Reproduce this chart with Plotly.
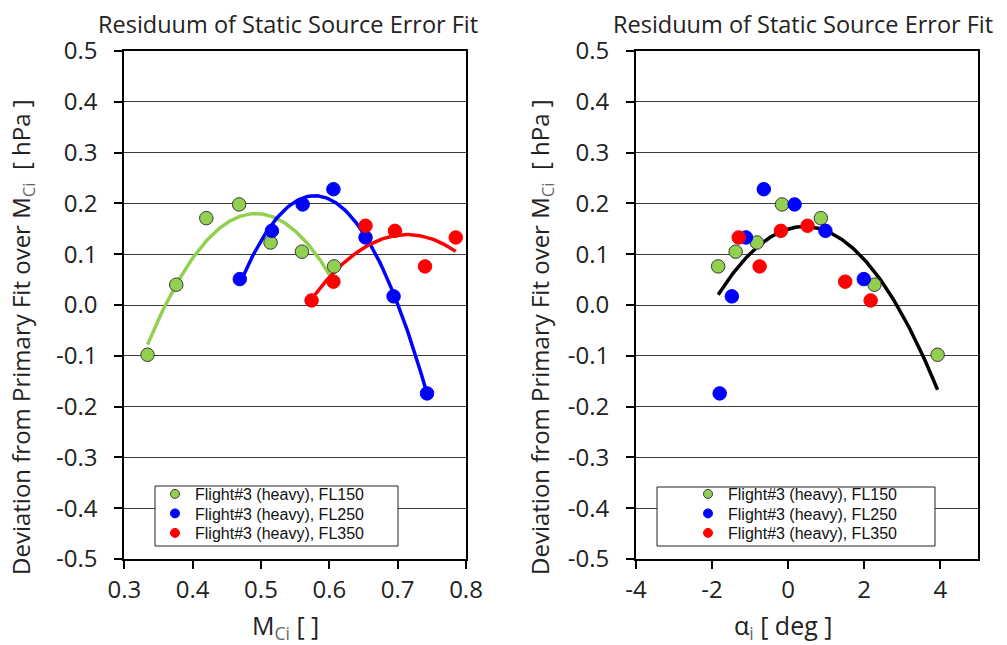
import numpy as np
import plotly.graph_objects as go

# ---------------- data ----------------
series_names = ["Flight#3 (heavy), FL150", "Flight#3 (heavy), FL250", "Flight#3 (heavy), FL350"]

mach_fl150 = [0.334, 0.376, 0.420, 0.468, 0.514, 0.560, 0.607]
dev_fl150 = [-0.098, 0.040, 0.171, 0.198, 0.123, 0.105, 0.076]
alpha_fl150 = [3.93, 2.27, 0.86, -0.16, -0.82, -1.38, -1.84]

mach_fl250 = [0.469, 0.516, 0.561, 0.606, 0.653, 0.694, 0.743]
dev_fl250 = [0.051, 0.146, 0.198, 0.228, 0.133, 0.017, -0.174]
alpha_fl250 = [1.99, 0.98, 0.17, -0.64, -1.11, -1.48, -1.80]

mach_fl350 = [0.574, 0.606, 0.653, 0.696, 0.740, 0.785]
dev_fl350 = [0.009, 0.046, 0.156, 0.146, 0.076, 0.133]
alpha_fl350 = [2.17, 1.50, 0.51, -0.19, -0.75, -1.30]

ytick_vals = [-0.5, -0.4, -0.3, -0.2, -0.1, 0.0, 0.1, 0.2, 0.3, 0.4, 0.5]
ytick_text = ["-0.5", "-0.4", "-0.3", "-0.2", "-0.1", "0.0", "0.1", "0.2", "0.3", "0.4", "0.5"]
x1tick_vals = [0.3, 0.4, 0.5, 0.6, 0.7, 0.8]
x1tick_text = ["0.3", "0.4", "0.5", "0.6", "0.7", "0.8"]
x2tick_vals = [-4, -2, 0, 2, 4]
x2tick_text = ["-4", "-2", "0", "2", "4"]

colors = ["#92D050", "#0000FF", "#FF0000"]
outline = ["#3a3a3a", "#0000FF", "#FF0000"]

# ---------------- figure ----------------
OFF = 8                      # page body margin
W, H = 1007 - OFF, 645 - OFF
FONT = "Open Sans"
LEGFONT = "Liberation Sans"
TXT = "#222"
SUB = "<sub><span style='color:#666'>{}</span></sub>"


def px(x):
    return (x - OFF) / W


def py(y):
    return 1 - (y - OFF) / H


fig = go.Figure()

machs = [mach_fl150, mach_fl250, mach_fl350]
devs = [dev_fl150, dev_fl250, dev_fl350]
alphas = [alpha_fl150, alpha_fl250, alpha_fl350]

# left: quadratic trend lines per flight level
for m, d, c in zip(machs, devs, colors):
    coef = np.polyfit(m, d, 2)
    xs = np.linspace(min(m), max(m), 120)
    fig.add_trace(go.Scatter(x=xs, y=np.polyval(coef, xs), mode="lines",
                             line=dict(color=c, width=3.5), showlegend=False,
                             hoverinfo="skip", xaxis="x", yaxis="y"))
for m, d, c, o, n in zip(machs, devs, colors, outline, series_names):
    fig.add_trace(go.Scatter(x=m, y=d, mode="markers", name=n,
                             marker=dict(size=13.5, color=c, line=dict(color=o, width=1)),
                             showlegend=False, xaxis="x", yaxis="y"))

# right: one quadratic trend over all points
all_a = alpha_fl150 + alpha_fl250 + alpha_fl350
all_d = dev_fl150 + dev_fl250 + dev_fl350
coef = np.polyfit(all_a, all_d, 2)
xs = np.linspace(min(all_a), max(all_a), 160)
fig.add_trace(go.Scatter(x=xs, y=np.polyval(coef, xs), mode="lines",
                         line=dict(color="black", width=3.5), showlegend=False,
                         hoverinfo="skip", xaxis="x2", yaxis="y2"))
for a, d, c, o, n in zip(alphas, devs, colors, outline, series_names):
    fig.add_trace(go.Scatter(x=a, y=d, mode="markers", name=n,
                             marker=dict(size=13.5, color=c, line=dict(color=o, width=1)),
                             showlegend=False, xaxis="x2", yaxis="y2"))

# legend entries: one legend per row so the row spacing matches the reference
row_y = [494, 513.5, 533]
legend_layout = {}
k = 0
for lx, ax, ay in ((155, "x", "y"), (688, "x2", "y2")):
    for c, o, n, ry in zip(colors, outline, series_names, row_y):
        k += 1
        lname = "legend" if k == 1 else f"legend{k}"
        fig.add_trace(go.Scatter(x=[None], y=[None], mode="markers", name=n,
                                 marker=dict(size=9, color=c, line=dict(color=o, width=1)),
                                 legend=lname, xaxis=ax, yaxis=ay))
        legend_layout[lname] = dict(x=px(lx), y=py(ry), xanchor="left", yanchor="middle",
                                    bgcolor="rgba(0,0,0,0)", borderwidth=0,
                                    font=dict(family=LEGFONT, size=16, color="#111"))

dom_y = [py(559), py(51)]
common_axis = dict(showline=True, linecolor="black", linewidth=2, mirror=True,
                   ticks="outside", ticklen=8, tickwidth=1.5, tickcolor="black",
                   zeroline=False, automargin=False,
                   tickfont=dict(family=FONT, size=24, color=TXT))

ytitle = "Deviation from Primary Fit over M" + SUB.format("Ci") + "\u00a0\u00a0[ hPa ]"

fig.update_layout(
    template="none",
    width=W, height=H,
    margin=dict(l=0, r=0, t=0, b=0, pad=0),
    paper_bgcolor="white", plot_bgcolor="white",
    font=dict(family=FONT, color=TXT),
    xaxis=dict(domain=[px(124.3), px(466)], range=[0.3, 0.8], tickmode="array",
               tickvals=x1tick_vals, ticktext=x1tick_text, showgrid=False,
               ticklabelstandoff=0, anchor="y", **common_axis),
    yaxis=dict(domain=dom_y, range=[-0.5, 0.5], tickmode="array",
               tickvals=ytick_vals, ticktext=ytick_text, showgrid=True,
               gridcolor="#3c3c3c", gridwidth=1, ticklabelstandoff=12, anchor="x",
               **common_axis),
    xaxis2=dict(domain=[px(636), px(978.3)], range=[-4, 5], tickmode="array",
                tickvals=x2tick_vals, ticktext=x2tick_text, showgrid=False,
                ticklabelstandoff=0, anchor="y2", **common_axis),
    yaxis2=dict(domain=dom_y, range=[-0.5, 0.5], tickmode="array",
                tickvals=ytick_vals, ticktext=ytick_text, showgrid=True,
                gridcolor="#3c3c3c", gridwidth=1, ticklabelstandoff=12, anchor="x2",
                **common_axis),
    shapes=[
        dict(type="rect", xref="paper", yref="paper", x0=px(155), x1=px(398),
             y0=py(546), y1=py(486), line=dict(color="#222", width=1),
             fillcolor="white", layer="above"),
        dict(type="rect", xref="paper", yref="paper", x0=px(657), x1=px(935),
             y0=py(546), y1=py(487), line=dict(color="#222", width=1),
             fillcolor="white", layer="above"),
    ],
    annotations=[
        dict(text="Residuum of Static Source Error Fit", xref="paper", yref="paper",
             x=px(288), y=py(24), xanchor="center", yanchor="middle", showarrow=False,
             font=dict(family=FONT, size=23.5, color=TXT)),
        dict(text="Residuum of Static Source Error Fit", xref="paper", yref="paper",
             x=px(803), y=py(24), xanchor="center", yanchor="middle", showarrow=False,
             font=dict(family=FONT, size=23.5, color=TXT)),
        dict(text=ytitle, xref="paper", yref="paper", x=px(22), y=py(337),
             xanchor="center", yanchor="middle", textangle=-90, showarrow=False,
             font=dict(family=FONT, size=24, color=TXT)),
        dict(text=ytitle, xref="paper", yref="paper", x=px(541), y=py(337),
             xanchor="center", yanchor="middle", textangle=-90, showarrow=False,
             font=dict(family=FONT, size=24, color=TXT)),
        dict(text="M" + SUB.format("Ci") + " [ ]", xref="paper", yref="paper",
             x=px(285), y=py(626), xanchor="center", yanchor="middle", showarrow=False,
             font=dict(family=FONT, size=25, color=TXT)),
        dict(text="α" + SUB.format("i") + " [ deg ]", xref="paper", yref="paper",
             x=px(783), y=py(626), xanchor="center", yanchor="middle", showarrow=False,
             font=dict(family=FONT, size=25, color=TXT)),
    ],
)
fig.update_layout(**legend_layout)

fig.write_html("out.html")
